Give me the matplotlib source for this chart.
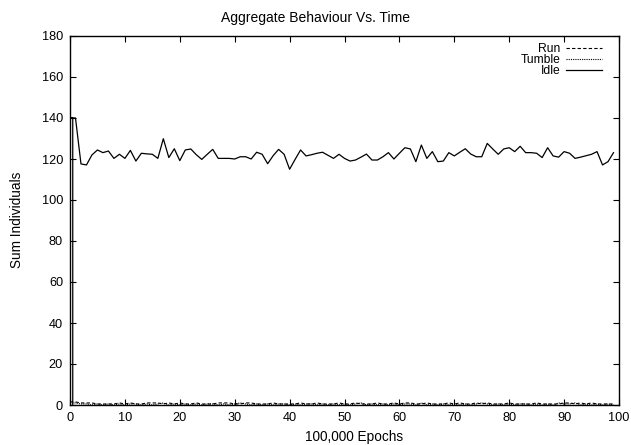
import matplotlib
matplotlib.use("Agg")
import matplotlib.pyplot as plt
import numpy as np

plt.rcParams['font.family'] = ['Liberation Sans', 'DejaVu Sans']

# Idle series (epochs in units of 100,000)
idle_x = [0.5, 0.5, 0] + list(range(0, 100))
idle_y = [0, 140, 140,
          140, 140, 117.6, 117.1, 122.0, 124.4, 123.1, 123.9, 120.3, 122.3,
          120.3, 124.2, 119.0, 122.8, 122.5, 122.3, 120.3, 129.9, 120.7, 125.0,
          119.2, 124.4, 124.9, 122.1, 119.8, 122.3, 124.7, 120.3, 120.3, 120.3,
          120.0, 121.1, 121.1, 120.0, 123.3, 122.3, 117.7, 121.6, 124.7, 122.3,
          115.0, 119.8, 124.4, 121.5, 122.1, 122.8, 123.3, 121.8, 120.3, 122.3,
          120.3, 119.0, 119.5, 120.9, 122.4, 119.5, 119.5, 121.1, 123.1, 120.0,
          122.8, 125.5, 124.9, 118.7, 126.8, 120.3, 123.6, 118.7, 119.0, 123.1,
          121.5, 123.3, 125.0, 122.4, 121.1, 121.1, 127.6, 124.9, 122.3, 124.9,
          125.5, 123.6, 126.2, 123.1, 123.1, 122.8, 120.7, 125.5, 121.5, 120.9,
          123.6, 122.8, 120.3, 120.9, 121.6, 122.3, 123.6, 117.1, 118.7, 123.1]

run_x = list(range(0, 100))
run_y = [1.5, 1.5, 1, 1, 1, 0.5, 0.5, 0.5, 0.5, 1,
         0.5, 1, 0.5, 0.5, 1, 1, 1, 0.5, 1, 0.5,
         1, 0.5, 0.5, 1, 0.5, 0.5, 0.5, 1, 1, 1,
         0.5, 0.5, 1, 1, 0.5, 0.5, 0.5, 1, 0.5, 0.5,
         0.5, 0.5, 1, 0.5, 0.5, 1, 0.5, 0.5, 0.5, 1,
         0.5, 0.5, 1, 0.5, 0.5, 0.5, 1, 0.5, 0.5, 1,
         0.5, 1, 1, 0.5, 0.5, 1, 0.5, 0.5, 0.5, 1,
         0.5, 1, 0.5, 0.5, 1, 0.5, 1, 0.5, 0.5, 0.5,
         1, 0.5, 0.5, 0.5, 0.5, 1, 0.5, 0.5, 0.5, 0.5,
         1, 1, 0.5, 1, 0.5, 1, 0.5, 0.5, 0.5, 0.5]
tumble_y = [1, 1, 0.5, 0.5, 0, 0.5, 0, 0.5, 0, 0.5,
            0, 0.5, 0.5, 0, 0.5, 0, 0.5, 1, 0, 0.5,
            0, 0.5, 0, 0.5, 0, 0.5, 0.5, 0, 0.5, 0,
            0.5, 1, 0.5, 0, 0.5, 0, 0.5, 0, 0.5, 0.5,
            0, 0.5, 0, 0.5, 0.5, 0, 0.5, 0, 0.5, 0,
            0.5, 0, 0.5, 1, 0, 0.5, 0, 0.5, 0, 0.5,
            0, 0.5, 0.5, 0, 1, 0, 0.5, 0, 0.5, 0,
            0.5, 0, 0.5, 0, 0.5, 1, 0.5, 0, 0.5, 0,
            0.5, 0, 0.5, 0.5, 0, 0.5, 0, 0.5, 0, 1,
            0.5, 0.5, 1, 0, 0.5, 0, 0.5, 0, 0.5, 0]

x_ticks = [0, 10, 20, 30, 40, 50, 60, 70, 80, 90, 100]
y_ticks = [0, 20, 40, 60, 80, 100, 120, 140, 160, 180]

W, H = 631, 445
fig = plt.figure(figsize=(W / 100, H / 100), dpi=100)
ax = fig.add_axes([70 / W, 40 / H, 549 / W, 369 / H])

ax.plot(run_x, run_y, color='black', lw=0.8, ls=(0, (3, 2)), label='Run')
ax.plot(run_x, tumble_y, color='black', lw=0.8, ls=(0, (1, 1)), label='Tumble')
ax.plot(idle_x, idle_y, color='black', lw=0.9, label='Idle')

ax.set_xlim(0, 100)
ax.set_ylim(0, 180)
ax.set_xticks(x_ticks)
ax.set_yticks(y_ticks)
ax.tick_params(direction='in', top=True, right=True, length=4, width=0.8,
               labelsize=9.2, pad=5)
for s in ax.spines.values():
    s.set_linewidth(1.0)

fig.text(0.5, 1 - 18 / H, 'Aggregate Behaviour Vs. Time', fontsize=10,
         ha='center', va='center')
fig.text(354 / W, 1 - 437 / H, '100,000 Epochs', fontsize=9.8,
         ha='center', va='center')
fig.text(17 / W, 1 - 220 / H, 'Sum Individuals', fontsize=9.8,
         ha='center', va='center', rotation=90)

leg = ax.legend(loc='upper right', frameon=False, markerfirst=False,
                fontsize=8.7, handlelength=3.0, labelspacing=-0.08,
                borderaxespad=0.25, handletextpad=0.45,
                bbox_to_anchor=(1 - 9 / 549, 1.0 + 1 / 369))
for t in leg.get_texts():
    t.set_ha('right')

fig.savefig('out.png', dpi=100)
